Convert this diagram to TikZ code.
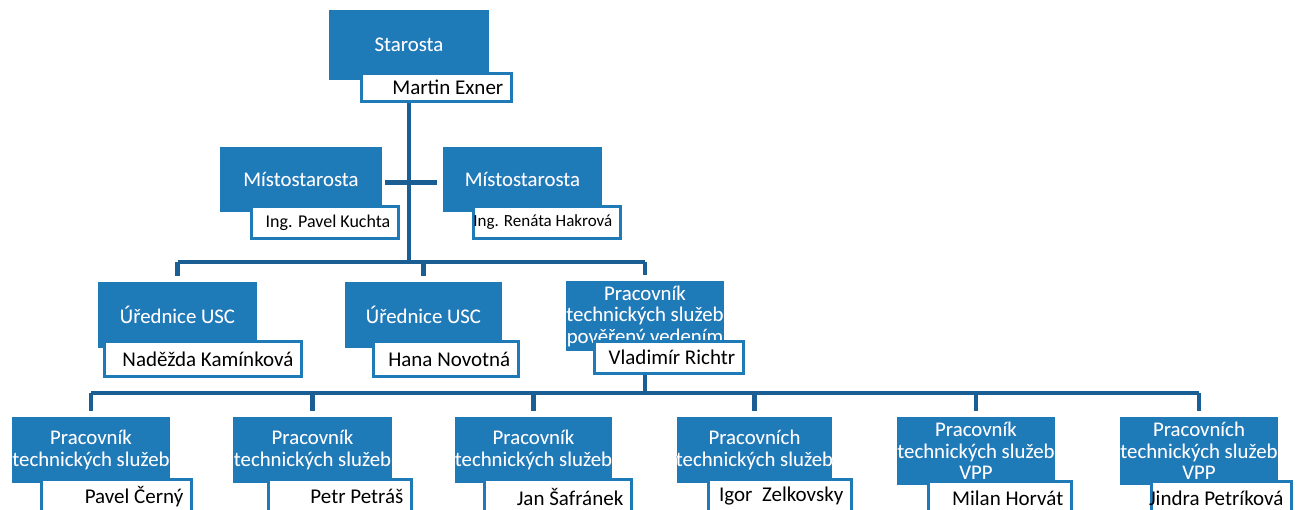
\documentclass[tikz,border=0pt]{standalone}
\usepackage{fontspec}
\setmainfont{Carlito}
\definecolor{boxblue}{HTML}{1F7AB8}
\definecolor{lineblue}{HTML}{1B5E93}
\definecolor{spill}{HTML}{6A9AD4}
\pgfdeclarelayer{bg}
\pgfdeclarelayer{back}
\pgfsetlayers{bg,back,main}
\tikzset{
  bluebox/.style={fill=boxblue, draw=none, anchor=north west, inner sep=0pt, outer sep=0pt},
  titletext/.style={text=white, font=\fontsize{20.8}{21.5}\selectfont, align=center, inner sep=0pt},
  namebox/.style={fill=white, draw=boxblue, line width=3pt, anchor=north west, inner sep=0pt, outer sep=0pt},
  nametext/.style={text=black, font=\fontsize{21}{22}\selectfont, inner sep=0pt, anchor=east},
  conn/.style={draw=lineblue, line width=4.5pt},
  dropline/.style={conn, shorten >=6pt},
}
% #1 name, #2 x, #3 y, #4 w, #5 h, #6 frame x offset, #7 frame width, #8 title, #9 person
\newcommand\orgunit[9]{%
  \node[bluebox, minimum width=#4pt, minimum height=#5pt] (#1) at (#2,#3) {};
  \node[titletext, text=spill] (#1t) at (#1.center) {#8};
  \begin{scope}
    \clip (#1.north west) rectangle (#1.south east);
    \node[titletext] at (#1.center) {#8};
  \end{scope}
  \node[namebox, minimum width={#7pt-3pt}, minimum height={\fh pt-3pt}] (#1n)
     at (#2+#6+1.5, #3+#5-\fup+1.5) {};
  \node[nametext] (#1p) at ([xshift=-8pt]#1n.east) {#9};
}
\begin{document}
\begin{tikzpicture}[x=1pt, y=-1pt]
\useasboundingbox (0,0) rectangle (1307,510);
\begin{pgfonlayer}{bg}
  \fill[white] (0,0) rectangle (1307,510);
\end{pgfonlayer}

\def\fh{31}\def\fup{8}
\orgunit{s}{329}{10}{160}{70}{31}{153}{Starosta}{Martin Exner}

\def\fh{35}\def\fup{7}
\orgunit{m1}{220}{147}{162}{65}{30}{150}{Místostarosta}{{\fontsize{18}{20}\selectfont Ing. Pavel Kuchta}}
\orgunit{m2}{443}{147}{159}{65}{29}{150}{Místostarosta}{{\fontsize{17}{19}\selectfont Ing. Renáta Hakrová}}

\def\fh{38}\def\fup{8}
\orgunit{u1}{98}{282}{159}{66}{5}{200}{Úřednice USC}{Naděžda Kamínková}
\orgunit{u2}{345}{282}{157}{66}{27}{148}{Úřednice USC}{Hana Novotná}
\def\fh{35}\def\fup{11}
\orgunit{u3}{566}{281}{158}{70}{27}{152}{Pracovník\\technických služeb\\pověřený vedením}{Vladimír Richtr}

\def\fh{37}\def\fup{5}
\orgunit{p1}{12}{417}{158}{66}{28}{153}{Pracovník\\technických služeb}{Pavel Černý}
\orgunit{p2}{233}{417}{159}{66}{34}{146}{Pracovník\\technických služeb}{Petr Petráš}
\orgunit{p3}{455}{417}{157}{66}{28}{150}{Pracovník\\technických služeb}{Jan Šafránek}
\orgunit{p4}{677}{417}{155}{66}{30}{146}{Pracovních\\technických služeb}{Igor\ \ Zelkovsky}
\orgunit{p5}{897}{417}{158}{68}{30}{146}{Pracovník\\technických služeb\\VPP}{Milan Horvát}
\orgunit{p6}{1120}{417}{158}{68}{30}{143}{Pracovních\\technických služeb\\VPP}{Jindra Petríková}

\coordinate (j1) at (409,262);
\coordinate (j2) at (645,393);

\begin{pgfonlayer}{back}
  \draw[conn] (s.center) -- (s.center |- j1);
  \draw[conn, shorten <=3pt, shorten >=6pt] ([yshift=-3pt]m1.east) -- ([yshift=-3pt]m2.west);
  \draw[conn] (u1.center |- j1) -- (u3.center |- j1);
  \draw[dropline] (u1.center |- j1) -- (u1.north);
  \draw[dropline] (u2.center |- j1) -- (u2.north);
  \draw[dropline] (u3.center |- j1) -- (u3.north);
  \draw[conn] (u3.center) -- (u3.center |- j2);
  \draw[conn] (p1.center |- j2) -- (p6.center |- j2);
  \foreach \p in {p1,p2,p3,p4,p5,p6}
    \draw[dropline] (\p.center |- j2) -- (\p.north);
\end{pgfonlayer}
\end{tikzpicture}
\end{document}
